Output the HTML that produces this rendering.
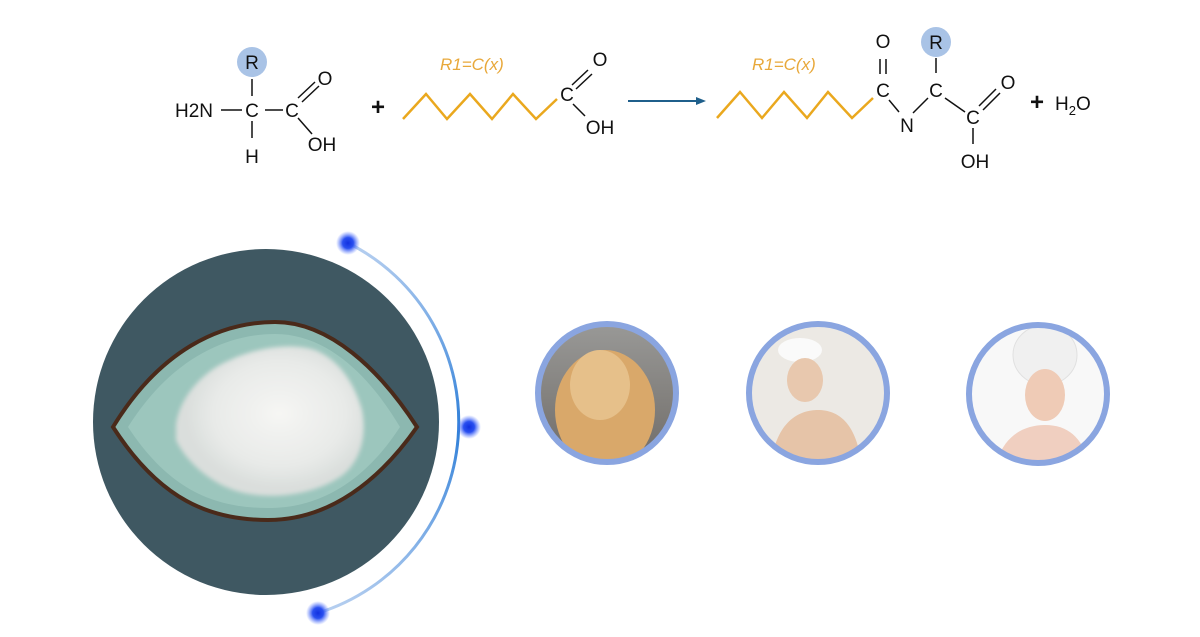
<!DOCTYPE html>
<html><head><meta charset="utf-8"><style>
html,body{margin:0;padding:0;background:#fff;width:1200px;height:637px;overflow:hidden}
svg{display:block}
text{font-family:"Liberation Sans",sans-serif}
</style></head><body>
<svg width="1200" height="637" viewBox="0 0 1200 637" xmlns="http://www.w3.org/2000/svg">
<defs>
<radialGradient id="glow"><stop offset="0" stop-color="#1030e0"/><stop offset="0.45" stop-color="#2a50f0"/><stop offset="1" stop-color="#6080ff" stop-opacity="0"/></radialGradient>
<linearGradient id="arcg" x1="0" y1="0" x2="0" y2="1"><stop offset="0" stop-color="#b8d0f0"/><stop offset="0.5" stop-color="#2f7fd8"/><stop offset="1" stop-color="#b8d0f0"/></linearGradient>
<radialGradient id="powder" cx="0.55" cy="0.45"><stop offset="0" stop-color="#f6f6f4"/><stop offset="0.7" stop-color="#e8eae8"/><stop offset="1" stop-color="#dadedc"/></radialGradient>
<filter id="blur"><feGaussianBlur stdDeviation="2"/></filter>
<linearGradient id="h1" x1="0" y1="0" x2="0" y2="1"><stop offset="0" stop-color="#9a9a98"/><stop offset="1" stop-color="#6e6a66"/></linearGradient>
<clipPath id="c1"><circle cx="607" cy="393" r="68"/></clipPath>
<clipPath id="c2"><circle cx="818" cy="393" r="68"/></clipPath>
<clipPath id="c3"><circle cx="1038" cy="394" r="68"/></clipPath>
</defs>

<g font-size="19" fill="#111">
<circle cx="252" cy="62" r="15" fill="#a9c3e6"/>
<text x="252" y="69" text-anchor="middle">R</text>
<text x="175" y="117">H2N</text>
<text x="252" y="117" text-anchor="middle">C</text>
<text x="292" y="117" text-anchor="middle">C</text>
<text x="252" y="163" text-anchor="middle">H</text>
<text x="325" y="85" text-anchor="middle">O</text>
<text x="322" y="151" text-anchor="middle">OH</text>
</g>
<g stroke="#111" stroke-width="1.5">
<line x1="221" y1="110" x2="242" y2="110"/>
<line x1="252" y1="79" x2="252" y2="96"/>
<line x1="252" y1="121" x2="252" y2="138"/>
<line x1="265" y1="110" x2="283" y2="110"/>
<line x1="298" y1="98" x2="315" y2="82"/><line x1="302" y1="102" x2="319" y2="86"/>
<line x1="298" y1="118" x2="312" y2="134"/>
</g>
<text x="378" y="115" font-size="24" font-weight="bold" text-anchor="middle" fill="#111">+</text>
<text x="440" y="70" font-size="17" font-style="italic" fill="#e8a83a">R1=C(x)</text>
<polyline points="403,119 426,94 447,119 470,94 492,119 513,94 536,119 557,99" fill="none" stroke="#eaa81e" stroke-width="2.5"/>
<g font-size="19" fill="#111">
<text x="567" y="101" text-anchor="middle">C</text>
<text x="600" y="66" text-anchor="middle">O</text>
<text x="600" y="134" text-anchor="middle">OH</text>
</g>
<g stroke="#111" stroke-width="1.5">
<line x1="572" y1="85" x2="588" y2="70"/><line x1="576" y1="89" x2="592" y2="74"/>
<line x1="573" y1="104" x2="585" y2="116"/>
</g>
<line x1="628" y1="101" x2="698" y2="101" stroke="#1f5f8b" stroke-width="2"/>
<polygon points="706,101 696,97 696,105" fill="#1f5f8b"/>

<text x="752" y="70" font-size="17" font-style="italic" fill="#e8a83a">R1=C(x)</text>
<polyline points="717,118 740,92 762,118 784,92 807,118 828,92 852,118 873,98" fill="none" stroke="#eaa81e" stroke-width="2.5"/>
<g font-size="19" fill="#111">
<text x="883" y="48" text-anchor="middle">O</text>
<text x="883" y="97" text-anchor="middle">C</text>
<text x="907" y="132" text-anchor="middle">N</text>
<circle cx="936" cy="42" r="15" fill="#a9c3e6"/>
<text x="936" y="49" text-anchor="middle">R</text>
<text x="936" y="97" text-anchor="middle">C</text>
<text x="973" y="124" text-anchor="middle">C</text>
<text x="1008" y="89" text-anchor="middle">O</text>
<text x="975" y="168" text-anchor="middle">OH</text>
<text x="1055" y="110">H<tspan font-size="13" dy="5">2</tspan><tspan dy="-5">O</tspan></text>
</g>
<text x="1037" y="110" font-size="24" font-weight="bold" text-anchor="middle" fill="#111">+</text>
<g stroke="#111" stroke-width="1.5">
<line x1="880" y1="59" x2="880" y2="74"/><line x1="886" y1="59" x2="886" y2="74"/>
<line x1="889" y1="100" x2="899" y2="112"/>
<line x1="913" y1="113" x2="928" y2="98"/>
<line x1="936" y1="58" x2="936" y2="73"/>
<line x1="945" y1="98" x2="965" y2="112"/>
<line x1="979" y1="106" x2="996" y2="89"/><line x1="983" y1="110" x2="1000" y2="93"/>
<line x1="973" y1="128" x2="973" y2="144"/>
</g>

<circle cx="266" cy="422" r="173" fill="#3f5862"/>
<path d="M113,427 C160,350 220,322 275,322 C330,322 380,370 417,427 C380,480 330,520 268,520 C210,520 160,500 113,427 Z" fill="#8cb8b0" stroke="#4a2a1a" stroke-width="4"/>
<path d="M128,427 C170,360 225,334 275,334 C330,334 372,380 400,427 C372,470 330,508 268,508 C212,508 168,488 128,427 Z" fill="#9cc6bd"/>
<path d="M176,425 C180,395 205,370 230,360 C255,348 290,342 315,350 C340,360 355,385 362,410 C368,440 358,468 335,480 C310,495 270,500 240,492 C210,484 185,460 176,440 Z" fill="url(#powder)" filter="url(#blur)"/>

<path d="M348,243 A200,200 0 0 1 318,613" fill="none" stroke="url(#arcg)" stroke-width="3"/>
<circle cx="348" cy="243" r="12" fill="url(#glow)"/>
<circle cx="469" cy="427" r="12" fill="url(#glow)"/>
<circle cx="318" cy="613" r="12" fill="url(#glow)"/>

<g clip-path="url(#c1)">
<rect x="530" y="320" width="160" height="150" fill="url(#h1)"/>
<ellipse cx="605" cy="410" rx="50" ry="60" fill="#d9a86a"/>
<ellipse cx="600" cy="385" rx="30" ry="35" fill="#e6c08a"/>
</g>
<circle cx="607" cy="393" r="69" fill="none" stroke="#8aa5e0" stroke-width="6"/>

<g clip-path="url(#c2)">
<rect x="740" y="320" width="160" height="150" fill="#ece9e4"/>
<ellipse cx="800" cy="350" rx="22" ry="12" fill="#fafafa"/>
<ellipse cx="805" cy="380" rx="18" ry="22" fill="#e8c8ae"/>
<path d="M770,470 C775,420 800,410 818,410 C840,410 858,425 862,470 Z" fill="#e6c4a8"/>
</g>
<circle cx="818" cy="393" r="69" fill="none" stroke="#8aa5e0" stroke-width="6"/>

<g clip-path="url(#c3)">
<rect x="960" y="320" width="160" height="150" fill="#f8f8f8"/>
<ellipse cx="1045" cy="355" rx="32" ry="30" fill="#f0f0f0" stroke="#e0e0e0"/>
<ellipse cx="1045" cy="395" rx="20" ry="26" fill="#efcbb6"/>
<path d="M995,470 C1000,440 1020,425 1045,425 C1070,425 1085,440 1090,470 Z" fill="#f0cfc0"/>
</g>
<circle cx="1038" cy="394" r="69" fill="none" stroke="#8aa5e0" stroke-width="6"/>
</svg>
</body></html>
